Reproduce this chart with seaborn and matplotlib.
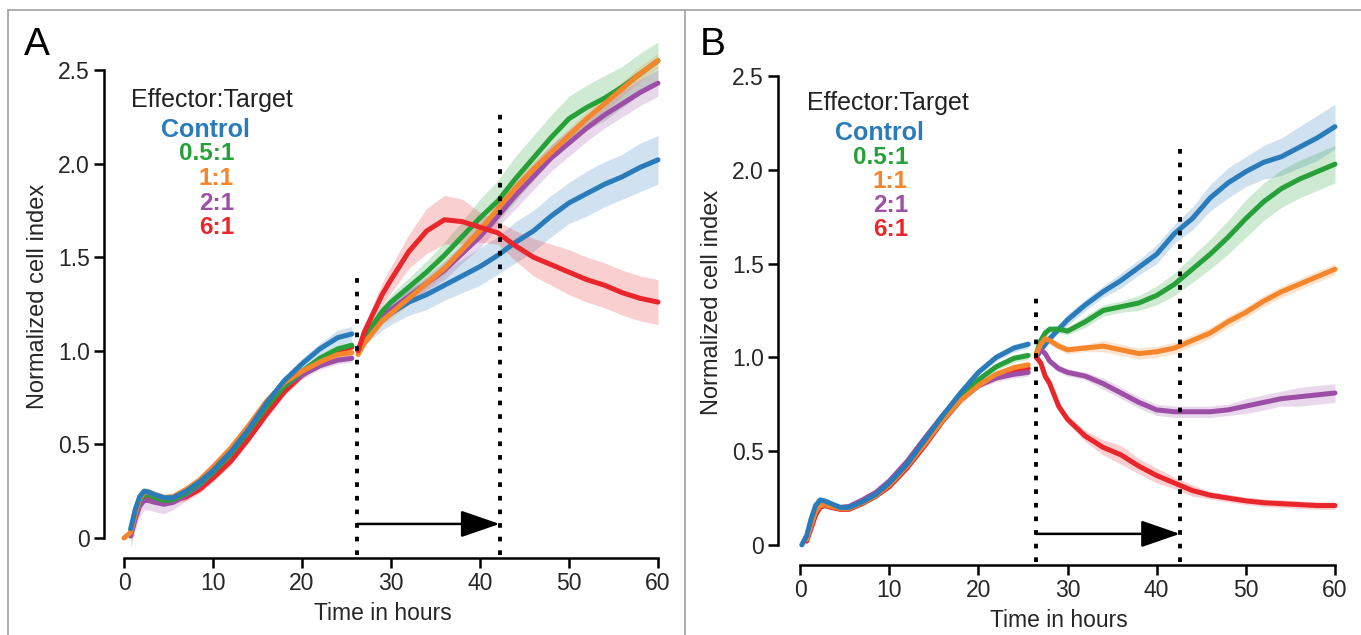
import numpy as np
import pandas as pd
import matplotlib
matplotlib.use("Agg")
import matplotlib.pyplot as plt
from matplotlib.lines import Line2D
import seaborn as sns

# ---------------- data ----------------
SERIES = ["Control", "0.5:1", "1:1", "2:1", "6:1"]
COLORS = {"Control": "#2a7bba", "0.5:1": "#27a03a", "1:1": "#f5862c",
          "2:1": "#9d4ea6", "6:1": "#e8262b"}
# drawing order (last = on top) for the two phases
ORDER_PRE = ["6:1", "2:1", "0.5:1", "1:1", "Control"]
ORDER_POST = ["Control", "2:1", "0.5:1", "1:1", "6:1"]

# Panel A -- before effector addition
A_T_PRE = [0.0, 0.75, 1.25, 1.75, 2.25, 2.75, 3.5, 4.5, 5.5, 7, 8.5, 10, 12, 14, 16, 18, 20, 22, 24, 25.6]
A_PRE = {
    "Control": [None, 0.05, 0.15, 0.22, 0.25, 0.245, 0.23, 0.215, 0.215, 0.25, 0.30, 0.36, 0.46, 0.58, 0.72, 0.84, 0.93, 1.01, 1.07, 1.09],
    "0.5:1":   [None, 0.04, 0.13, 0.20, 0.23, 0.23, 0.215, 0.20, 0.205, 0.24, 0.29, 0.35, 0.45, 0.57, 0.70, 0.81, 0.89, 0.96, 1.01, 1.03],
    "1:1":     [0.0, 0.03, 0.13, 0.21, 0.245, 0.245, 0.23, 0.215, 0.22, 0.26, 0.31, 0.38, 0.48, 0.60, 0.73, 0.83, 0.89, 0.94, 0.98, 0.99],
    "2:1":     [None, 0.01, 0.10, 0.17, 0.20, 0.20, 0.19, 0.18, 0.19, 0.23, 0.28, 0.35, 0.46, 0.58, 0.71, 0.81, 0.87, 0.92, 0.95, 0.96],
    "6:1":     [None, 0.02, 0.11, 0.18, 0.22, 0.22, 0.21, 0.20, 0.20, 0.22, 0.26, 0.32, 0.41, 0.53, 0.66, 0.78, 0.87, 0.95, 1.00, 1.02],
}
A_PRE_ERR = {
    "Control": [0.0, 0.02, 0.02, 0.02, 0.02, 0.02, 0.02, 0.02, 0.02, 0.02, 0.02, 0.02, 0.02, 0.02, 0.02, 0.02, 0.03, 0.03, 0.04, 0.04],
    "0.5:1":   [0.0, 0.02, 0.02, 0.02, 0.02, 0.02, 0.02, 0.02, 0.02, 0.02, 0.02, 0.02, 0.02, 0.02, 0.02, 0.02, 0.02, 0.02, 0.02, 0.02],
    "1:1":     [0.0, 0.02, 0.02, 0.02, 0.02, 0.02, 0.02, 0.02, 0.02, 0.02, 0.02, 0.02, 0.02, 0.02, 0.02, 0.02, 0.02, 0.02, 0.02, 0.02],
    "2:1":     [0.0, 0.06, 0.06, 0.06, 0.05, 0.05, 0.05, 0.05, 0.04, 0.03, 0.02, 0.02, 0.02, 0.02, 0.02, 0.02, 0.02, 0.02, 0.02, 0.02],
    "6:1":     [0.0, 0.02, 0.02, 0.02, 0.02, 0.02, 0.02, 0.02, 0.02, 0.02, 0.02, 0.02, 0.02, 0.02, 0.02, 0.02, 0.02, 0.02, 0.02, 0.02],
}
# Panel A -- after effector addition
A_T_POST = [26.3, 27, 28, 29, 30, 32, 34, 36, 38, 40, 42, 44, 46, 48, 50, 52, 54, 56, 58, 60]
A_POST = {
    "Control": [1.01, 1.06, 1.11, 1.16, 1.20, 1.26, 1.30, 1.35, 1.40, 1.45, 1.51, 1.58, 1.64, 1.72, 1.79, 1.84, 1.89, 1.93, 1.98, 2.02],
    "0.5:1":   [1.00, 1.07, 1.14, 1.21, 1.26, 1.34, 1.42, 1.51, 1.61, 1.71, 1.80, 1.92, 2.03, 2.14, 2.24, 2.30, 2.35, 2.41, 2.48, 2.55],
    "1:1":     [0.98, 1.04, 1.10, 1.16, 1.20, 1.28, 1.36, 1.44, 1.54, 1.64, 1.76, 1.87, 1.97, 2.06, 2.15, 2.24, 2.32, 2.40, 2.48, 2.55],
    "2:1":     [1.00, 1.07, 1.13, 1.18, 1.22, 1.29, 1.36, 1.43, 1.52, 1.61, 1.72, 1.83, 1.93, 2.03, 2.11, 2.19, 2.26, 2.32, 2.38, 2.43],
    "6:1":     [1.00, 1.10, 1.20, 1.30, 1.38, 1.53, 1.64, 1.70, 1.69, 1.66, 1.63, 1.56, 1.50, 1.46, 1.42, 1.38, 1.35, 1.31, 1.28, 1.26],
}
A_POST_ERR = {
    "Control": [0.02, 0.03, 0.04, 0.05, 0.06, 0.07, 0.08, 0.08, 0.09, 0.10, 0.10, 0.11, 0.11, 0.11, 0.11, 0.12, 0.12, 0.12, 0.13, 0.13],
    "0.5:1":   [0.02, 0.02, 0.03, 0.03, 0.04, 0.05, 0.06, 0.07, 0.08, 0.10, 0.11, 0.12, 0.12, 0.12, 0.12, 0.12, 0.12, 0.11, 0.11, 0.10],
    "1:1":     [0.02, 0.02, 0.02, 0.02, 0.03, 0.03, 0.03, 0.03, 0.03, 0.04, 0.04, 0.04, 0.04, 0.04, 0.04, 0.04, 0.04, 0.04, 0.04, 0.04],
    "2:1":     [0.02, 0.02, 0.03, 0.03, 0.03, 0.04, 0.04, 0.05, 0.05, 0.06, 0.06, 0.07, 0.07, 0.07, 0.07, 0.07, 0.07, 0.07, 0.07, 0.07],
    "6:1":     [0.02, 0.03, 0.05, 0.06, 0.07, 0.09, 0.12, 0.13, 0.12, 0.08, 0.06, 0.08, 0.10, 0.11, 0.12, 0.12, 0.12, 0.12, 0.12, 0.12],
}

# Panel B -- before effector addition
B_T_PRE = [0.2, 0.75, 1.25, 1.75, 2.25, 2.75, 3.5, 4.5, 5.5, 7, 8.5, 10, 12, 14, 16, 18, 20, 22, 24, 25.6]
B_PRE = {
    "Control": [0.0, 0.05, 0.14, 0.21, 0.24, 0.235, 0.22, 0.20, 0.20, 0.23, 0.27, 0.33, 0.43, 0.56, 0.69, 0.81, 0.92, 1.00, 1.05, 1.07],
    "0.5:1":   [None, 0.04, 0.12, 0.19, 0.22, 0.22, 0.21, 0.195, 0.195, 0.225, 0.265, 0.325, 0.43, 0.555, 0.68, 0.79, 0.88, 0.95, 0.995, 1.01],
    "1:1":     [None, 0.03, 0.11, 0.18, 0.21, 0.215, 0.205, 0.195, 0.195, 0.225, 0.265, 0.32, 0.42, 0.54, 0.665, 0.77, 0.85, 0.91, 0.945, 0.96],
    "2:1":     [None, 0.03, 0.11, 0.18, 0.21, 0.215, 0.21, 0.20, 0.205, 0.24, 0.28, 0.34, 0.445, 0.57, 0.69, 0.78, 0.85, 0.89, 0.91, 0.92],
    "6:1":     [None, 0.02, 0.09, 0.16, 0.20, 0.21, 0.20, 0.19, 0.19, 0.22, 0.26, 0.31, 0.41, 0.53, 0.66, 0.77, 0.85, 0.90, 0.93, 0.94],
}
B_PRE_ERR = {s: [0.0, 0.01, 0.01, 0.01, 0.01, 0.01, 0.01, 0.01, 0.01, 0.01, 0.01, 0.01, 0.01, 0.01, 0.01, 0.01, 0.015, 0.02, 0.02, 0.02]
             for s in SERIES}
# Panel B -- after effector addition
B_T_POST = [26.5, 27, 27.5, 28, 29, 30, 32, 34, 36, 38, 40, 42, 44, 46, 48, 50, 52, 54, 56, 58, 60]
B_POST = {
    "Control": [1.00, 1.04, 1.07, 1.10, 1.15, 1.20, 1.28, 1.35, 1.41, 1.48, 1.55, 1.66, 1.74, 1.85, 1.93, 1.99, 2.04, 2.07, 2.12, 2.17, 2.23],
    "0.5:1":   [1.02, 1.09, 1.13, 1.15, 1.15, 1.14, 1.19, 1.25, 1.27, 1.29, 1.33, 1.39, 1.47, 1.55, 1.64, 1.74, 1.83, 1.90, 1.95, 1.99, 2.03],
    "1:1":     [1.02, 1.07, 1.10, 1.09, 1.06, 1.04, 1.05, 1.06, 1.04, 1.02, 1.03, 1.05, 1.09, 1.13, 1.19, 1.24, 1.30, 1.35, 1.39, 1.43, 1.47],
    "2:1":     [1.01, 1.04, 1.02, 0.98, 0.94, 0.92, 0.90, 0.86, 0.81, 0.76, 0.72, 0.71, 0.71, 0.71, 0.72, 0.74, 0.76, 0.78, 0.79, 0.80, 0.81],
    "6:1":     [1.00, 0.97, 0.90, 0.86, 0.74, 0.67, 0.58, 0.52, 0.48, 0.42, 0.37, 0.33, 0.29, 0.265, 0.25, 0.235, 0.225, 0.22, 0.215, 0.21, 0.21],
}
B_POST_ERR = {
    "Control": [0.01, 0.01, 0.02, 0.02, 0.02, 0.03, 0.03, 0.03, 0.04, 0.04, 0.05, 0.05, 0.06, 0.07, 0.08, 0.08, 0.09, 0.10, 0.11, 0.12, 0.12],
    "0.5:1":   [0.01, 0.01, 0.02, 0.02, 0.02, 0.02, 0.03, 0.03, 0.03, 0.04, 0.05, 0.06, 0.07, 0.08, 0.09, 0.10, 0.10, 0.10, 0.10, 0.10, 0.10],
    "1:1":     [0.01, 0.01, 0.02, 0.02, 0.02, 0.02, 0.02, 0.03, 0.03, 0.03, 0.03, 0.03, 0.03, 0.03, 0.03, 0.03, 0.03, 0.03, 0.03, 0.03, 0.03],
    "2:1":     [0.01, 0.01, 0.02, 0.02, 0.02, 0.02, 0.02, 0.03, 0.03, 0.03, 0.03, 0.03, 0.03, 0.03, 0.03, 0.04, 0.04, 0.04, 0.05, 0.05, 0.05],
    "6:1":     [0.01, 0.01, 0.01, 0.02, 0.02, 0.02, 0.03, 0.04, 0.05, 0.04, 0.04, 0.03, 0.03, 0.02, 0.02, 0.02, 0.02, 0.02, 0.02, 0.02, 0.02],
}

X_TICKS = [0, 10, 20, 30, 40, 50, 60]
Y_TICKS = [0, 0.5, 1.0, 1.5, 2.0, 2.5]
Y_TICKLABELS = ["0", "0.5", "1.0", "1.5", "2.0", "2.5"]


def build_frame(t_pre, pre, err_pre, t_post, post, err_post):
    rows = []
    for seg, (tt, vals, errs) in enumerate([(t_pre, pre, err_pre), (t_post, post, err_post)]):
        for s in SERIES:
            for t, v, e in zip(tt, vals[s], errs[s]):
                if v is None:
                    continue
                rows.append(dict(series=s, seg=seg, t=t, v=v, lo=v - e, hi=v + e))
    return pd.DataFrame(rows)


dfA = build_frame(A_T_PRE, A_PRE, A_PRE_ERR, A_T_POST, A_POST, A_POST_ERR)
dfB = build_frame(B_T_PRE, B_PRE, B_PRE_ERR, B_T_POST, B_POST, B_POST_ERR)

# ---------------- style ----------------
sns.set_theme(style="white")
plt.rcParams["font.family"] = ["Liberation Sans", "DejaVu Sans"]

W, H = 1361, 635
fig = plt.figure(figsize=(W / 100, H / 100), dpi=100)


def fx(px):
    return px / W


def fy(py):
    return 1 - py / H


# panel frames
for line in [((8, W), (10, 10)), ((8, 8), (10, H)), ((685, 685), (10, H))]:
    fig.add_artist(Line2D([fx(p) for p in line[0]], [fy(p) for p in line[1]],
                          color="#a0a0a0", lw=1.2))

panels = [
    dict(df=dfA, rect=[fx(104), fy(558), fx(662) - fx(104), fy(35) - fy(558)],
         xlim=(-2.25, 60.45), ylim=(-0.107, 2.687), letter="A", letter_x=24,
         vlines=[(26.2, 1.43), (42.2, 2.27)], arrow_y=0.075,
         leg_x=131, leg_y=[100, 130, 154, 178, 203, 227], ctrl_cx=205, right_x=234),
    dict(df=dfB, rect=[fx(778), fy(565), fx(1339) - fx(778), fy(40) - fy(565)],
         xlim=(-2.47, 60.45), ylim=(-0.107, 2.692), letter="B", letter_x=700,
         vlines=[(26.47, 1.32), (42.6, 2.11)], arrow_y=0.059,
         leg_x=807, leg_y=[103, 133, 158, 182, 206, 230], ctrl_cx=879, right_x=908),
]

for p in panels:
    ax = fig.add_axes(p["rect"])
    df = p["df"]
    # error bands
    for s in SERIES:
        for seg, sub in df[df.series == s].groupby("seg"):
            ax.fill_between(sub.t, sub.lo, sub.hi, color=COLORS[s], alpha=0.22,
                            lw=0, zorder=1)
    # mean curves, one phase at a time so the stacking order matches
    for seg, order in [(0, ORDER_PRE), (1, ORDER_POST)]:
        sns.lineplot(data=df[df.seg == seg], x="t", y="v", hue="series",
                     hue_order=order, palette=COLORS, estimator=None, sort=False,
                     lw=3.6, legend=False, ax=ax, zorder=3)

    ax.set_xlim(*p["xlim"])
    ax.set_ylim(*p["ylim"])
    ax.set_xticks(X_TICKS)
    ax.set_yticks(Y_TICKS)
    ax.set_yticklabels(Y_TICKLABELS)
    for side in ["top", "right"]:
        ax.spines[side].set_visible(False)
    for side in ["left", "bottom"]:
        ax.spines[side].set_color("black")
        ax.spines[side].set_linewidth(1.8)
    ax.spines["left"].set_bounds(0, 2.5)
    ax.spines["bottom"].set_bounds(0, 60)
    ax.tick_params(axis="both", which="major", direction="out", length=7,
                   width=1.8, color="black", labelsize=16.5, pad=3,
                   left=True, bottom=True)
    ax.set_xlabel("Time in hours", fontsize=16.5, labelpad=5)
    ax.set_ylabel("Normalized cell index", fontsize=17, labelpad=7)
    ax.grid(False)
    ax.set_facecolor("none")

    # dotted vertical markers and arrow
    for xv, ytop in p["vlines"]:
        ax.plot([xv, xv], [-0.09, ytop], color="black", lw=2.8,
                linestyle=(0, (1.2, 2.3)), zorder=5, clip_on=False)
    x0, x1 = p["vlines"][0][0], p["vlines"][1][0]
    ax.annotate("", xy=(x1, p["arrow_y"]), xytext=(x0, p["arrow_y"]),
                arrowprops=dict(arrowstyle="-|>,head_length=1.1,head_width=0.38",
                                mutation_scale=22, lw=1.8, color="black",
                                shrinkA=0, shrinkB=0), zorder=6)

    # panel letter
    fig.text(fx(p["letter_x"]), fy(55), p["letter"], fontsize=28,
             color="black", va="baseline", ha="left")

    # text legend
    fig.text(fx(p["leg_x"]), fy(p["leg_y"][0]), "Effector:Target", fontsize=18,
             color="#222222", va="center", ha="left")
    fig.text(fx(p["ctrl_cx"]), fy(p["leg_y"][1]), "Control", fontsize=18,
             fontweight="bold", color=COLORS["Control"], va="center", ha="center")
    for s, yy in zip(SERIES[1:], p["leg_y"][2:]):
        fig.text(fx(p["right_x"]), fy(yy), s, fontsize=17.5, fontweight="bold",
                 color=COLORS[s], va="center", ha="right")

fig.savefig("out.png", dpi=100)
